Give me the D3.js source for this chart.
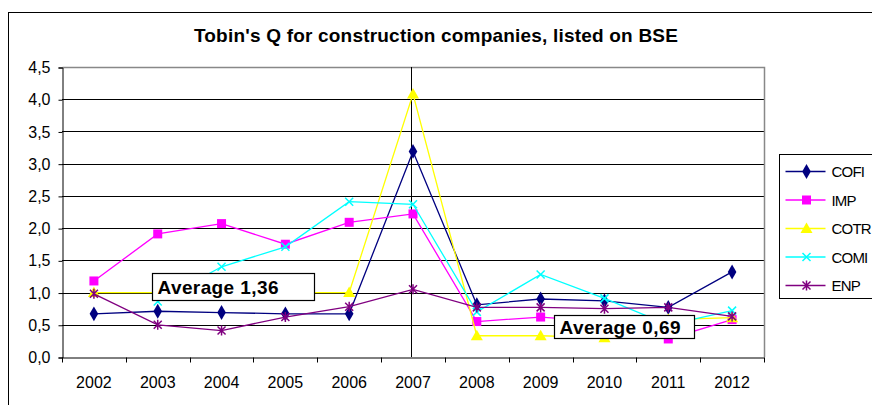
<!DOCTYPE html>
<html>
<head>
<meta charset="utf-8">
<script src="https://cdn.jsdelivr.net/npm/d3@7"></script>
<style>
body { margin: 0; background: #fff; }
svg { display: block; font-family: Arial, "Liberation Sans", sans-serif; }
</style>
</head>
<body>
<svg id="chart" width="872" height="405"></svg>
<script>
var years = ["2002","2003","2004","2005","2006","2007","2008","2009","2010","2011","2012"];
var cofi = [0.67, 0.71, 0.69, 0.67, 0.67, 3.19, 0.81, 0.90, 0.87, 0.77, 1.32];
var imp  = [1.18, 1.91, 2.07, 1.75, 2.09, 2.22, 0.55, 0.62, 0.55, 0.28, 0.58];
var cotr = [1.00, 1.00, 1.00, 1.00, 1.00, 4.08, 0.33, 0.33, 0.30, 0.58, 0.61];
var comi = [null, 0.86, 1.40, 1.71, 2.41, 2.37, 0.70, 1.28, 0.91, 0.50, 0.72];
var enp  = [0.98, 0.50, 0.41, 0.62, 0.78, 1.05, 0.77, 0.77, 0.75, 0.77, 0.63];
var seriesNames = ["COFI", "IMP", "COTR", "COMI", "ENP"];
var yTicks = [0, 0.5, 1, 1.5, 2, 2.5, 3, 3.5, 4, 4.5];
var averages = [{label: "Average 1,36", value: 1.36, year: "2003"},
                {label: "Average 0,69", value: 0.69, year: "2010"}];

var colors = {COFI: "#000080", IMP: "#ff00ff", COTR: "#ffff00", COMI: "#00ffff", ENP: "#800080"};
var seriesData = {COFI: cofi, IMP: imp, COTR: cotr, COMI: comi, ENP: enp};

var svg = d3.select("#chart");

// outer chart frame
svg.append("rect")
    .attr("x", 8.5).attr("y", 12.5)
    .attr("width", 880).attr("height", 410)
    .attr("fill", "#fff").attr("stroke", "#000");

svg.append("text")
    .text("Tobin's Q for construction companies, listed on BSE")
    .attr("x", 436).attr("y", 42)
    .attr("text-anchor", "middle")
    .attr("font-weight", "bold")
    .attr("font-size", 19)
    .attr("letter-spacing", 0.2);

var xScale = d3.scaleBand().domain(years).range([62, 764]);
var yScale = d3.scaleLinear().domain([0, 4.5]).range([357, 67]);
var cx = function(y) { return xScale(y) + xScale.bandwidth() / 2; };
var fmt = function(v) { return d3.format(".1f")(v).replace(".", ","); };

// gridlines
svg.append("g").selectAll("line")
    .data(yTicks.slice(1, -1))
    .join("line")
    .attr("x1", 62).attr("x2", 764)
    .attr("y1", function(d) { return Math.round(yScale(d)) + 0.5; })
    .attr("y2", function(d) { return Math.round(yScale(d)) + 0.5; })
    .attr("stroke", "#000").attr("stroke-width", 1.2);

// plot border (gray top/right)
svg.append("path")
    .attr("d", "M62.5," + (yScale(4.5) + 0.5) + "H764.5V" + yScale(0))
    .attr("fill", "none").attr("stroke", "#888").attr("stroke-width", 1.5);

// vertical line at 2007
svg.append("line")
    .attr("x1", Math.round(cx("2007")) - 1.5).attr("x2", Math.round(cx("2007")) - 1.5)
    .attr("y1", yScale(4.5)).attr("y2", yScale(0))
    .attr("stroke", "#000").attr("stroke-width", 1);

// y axis
var yAxis = d3.axisLeft(yScale).tickValues(yTicks).tickFormat(fmt).tickSize(4).tickPadding(8);
var gy = svg.append("g").attr("transform", "translate(62.5,0.5)").call(yAxis);
gy.select(".domain").attr("stroke", "#000");
gy.selectAll("text").attr("font-size", 16).attr("font-family", "Arial, 'Liberation Sans', sans-serif").attr("fill", "#000");

// x axis with ticks at category boundaries
var xAxis = d3.axisBottom(xScale).tickSize(0).tickPadding(19);
var gx = svg.append("g").attr("transform", "translate(0," + (yScale(0) + 0.5) + ")").call(xAxis);
gx.select(".domain").attr("stroke", "#000");
gx.selectAll("text").attr("font-size", 16).attr("font-family", "Arial, 'Liberation Sans', sans-serif").attr("fill", "#000");
gx.selectAll(".bound")
    .data(years.map(function(y) { return xScale(y); }).concat([xScale.range()[1]]))
    .join("line")
    .attr("x1", function(d) { return Math.round(d) + 0.5; })
    .attr("x2", function(d) { return Math.round(d) + 0.5; })
    .attr("y1", 0).attr("y2", 5)
    .attr("stroke", "#000");

// markers
function marker(g, name) {
    var c = colors[name];
    if (name === "COFI") {
        g.append("path").attr("d", d3.symbol(d3.symbolDiamond, 64)()).attr("fill", c);
    } else if (name === "IMP") {
        g.append("rect").attr("x", -4.5).attr("y", -4.5).attr("width", 9).attr("height", 9).attr("fill", c);
    } else if (name === "COTR") {
        g.append("path").attr("d", "M0,-6L6,4.5L-6,4.5Z").attr("fill", c);
    } else if (name === "COMI") {
        g.append("path").attr("d", "M-4,-4L4,4M-4,4L4,-4").attr("stroke", c).attr("stroke-width", 1.5);
    } else {
        g.append("path").attr("d", "M-4,-4L4,4M-4,4L4,-4M0,-5L0,5").attr("stroke", c).attr("stroke-width", 1.5);
    }
}

var line = d3.line()
    .defined(function(d) { return d.v !== null; })
    .x(function(d) { return cx(d.year); })
    .y(function(d) { return yScale(d.v); });

seriesNames.forEach(function(name) {
    var pts = years.map(function(y, i) { return {year: y, v: seriesData[name][i]}; });
    var g = svg.append("g");
    g.append("path").datum(pts)
        .attr("d", line)
        .attr("fill", "none")
        .attr("stroke", colors[name])
        .attr("stroke-width", 1.3);
    g.selectAll("g.m")
        .data(pts.filter(function(d) { return d.v !== null; }))
        .join("g")
        .attr("transform", function(d) { return "translate(" + cx(d.year) + "," + yScale(d.v) + ")"; })
        .each(function() { marker(d3.select(this), name); });
});

// average annotations
var avgOffsets = [{dx: -6, dy: 4, w: 162, h: 27}, {dx: -50, dy: 2, w: 140, h: 23}];
averages.forEach(function(a, i) {
    var o = avgOffsets[i];
    var x0 = Math.round(cx(a.year) + o.dx) + 0.5;
    var y0 = Math.round(yScale(a.value) + o.dy) + 0.5;
    svg.append("rect")
        .attr("x", x0).attr("y", y0)
        .attr("width", o.w).attr("height", o.h)
        .attr("fill", "#fff").attr("stroke", "#000").attr("stroke-width", 1.2);
    svg.append("text")
        .text(a.label)
        .attr("x", x0 + 5).attr("y", y0 + o.h / 2 + 7)
        .attr("font-weight", "bold").attr("font-size", 19)
        .attr("letter-spacing", 0.4);
});

// legend
var legend = svg.append("g").attr("transform", "translate(779.5,154.5)");
legend.append("rect")
    .attr("width", 120).attr("height", 144)
    .attr("fill", "#fff").attr("stroke", "#000");
seriesNames.forEach(function(name, i) {
    var row = legend.append("g").attr("transform", "translate(0," + (17 + i * 28.5) + ")");
    row.append("line").attr("x1", 6).attr("x2", 46).attr("stroke", colors[name]).attr("stroke-width", 1.3);
    marker(row.append("g").attr("transform", "translate(27,0)"), name);
    row.append("text").text(name)
        .attr("x", 52).attr("y", 5.5)
        .attr("font-size", 15).attr("letter-spacing", -0.8);
});
</script>
</body>
</html>
